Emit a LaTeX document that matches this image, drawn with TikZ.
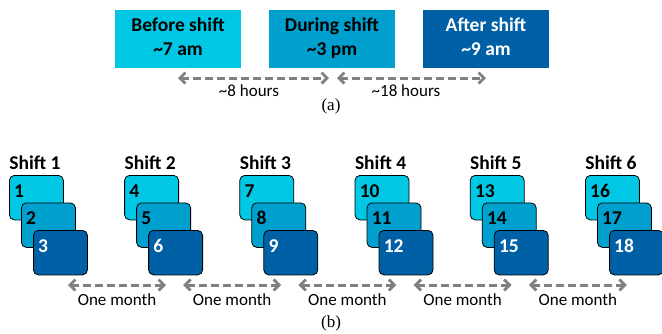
\documentclass[tikz,border=0pt]{standalone}
\usepackage{fontspec}
\setmainfont{Carlito}
\newfontfamily\timesfont{Liberation Serif}
\usetikzlibrary{arrows.meta}
\definecolor{cA}{RGB}{0,200,228}
\definecolor{cB}{RGB}{0,160,206}
\definecolor{cC}{RGB}{0,96,166}
\definecolor{arrgray}{RGB}{128,128,128}
\tikzset{
  topbox/.style={inner sep=0pt, minimum width=126pt, minimum height=58pt, anchor=north west, align=center, font=\fontsize{19}{24}\selectfont\bfseries},
  smallbox/.style={draw=black, line width=0.8pt, rounded corners=5pt, inner sep=0pt, minimum width=54pt, minimum height=44.5pt, anchor=north west},
  numtxt/.style={anchor=base west, inner sep=0pt, font=\fontsize{19.5}{23}\selectfont\bfseries},
  shifttxt/.style={anchor=base, inner sep=0pt, font=\fontsize{19.5}{23}\selectfont\bfseries},
  labtxt/.style={anchor=base, inner sep=0pt, font=\fontsize{17}{20}\selectfont},
  captxt/.style={anchor=base, inner sep=0pt, font=\fontsize{17}{20}\selectfont\timesfont},
  darr/.style={draw=arrgray, line width=3pt, dash pattern=on 8pt off 4pt, {Straight Barb[length=5.5pt,width=11pt,line width=2.8pt]}-{Straight Barb[length=5.5pt,width=11pt,line width=2.8pt]}}
}
\begin{document}
\begin{tikzpicture}[x=1pt,y=-1pt]
\useasboundingbox (0,0) rectangle (662,333);
% (a)
\node[topbox, fill=cA, text=black] (before) at (115,10) {};
\node[topbox, fill=cB, text=black] (during) at (269,10) {};
\node[topbox, fill=cC, text=white] (after) at (423,10) {};
\node[shifttxt, text=black] (beforeT1) at (178,31) {Before shift};
\node[shifttxt, text=black] (beforeT2) at (178,55) {\textasciitilde 7 am};
\node[shifttxt, text=black] (duringT1) at (332,31) {During shift};
\node[shifttxt, text=black] (duringT2) at (332,55) {\textasciitilde 3 pm};
\node[shifttxt, text=white] (afterT1) at (486,31) {After shift};
\node[shifttxt, text=white] (afterT2) at (486,55) {\textasciitilde 9 am};
\coordinate (a1s) at (178,78);
\coordinate (a1e) at (329,78);
\coordinate (a2s) at (337,78);
\coordinate (a2e) at (486,78);
\draw[darr] (a1s) -- (a1e);
\draw[darr] (a2s) -- (a2e);
\node[labtxt] (l8) at (249,96) {\textasciitilde 8 hours};
\node[labtxt] (l18) at (406,96) {\textasciitilde 18 hours};
\node[captxt] (capa) at (331,110) {(a)};
% (b)
\foreach \i in {0,...,5}{
  \pgfmathsetmacro{\xo}{9+115.2*\i}
  \pgfmathtruncatemacro{\na}{3*\i+1}
  \pgfmathtruncatemacro{\nb}{3*\i+2}
  \pgfmathtruncatemacro{\nc}{3*\i+3}
  \pgfmathtruncatemacro{\sh}{\i+1}
  \node[shifttxt] (shift\sh) at (\xo+26,169) {Shift \sh};
  \node[smallbox, fill=cA] (box\na) at (\xo,175) {};
  \node[smallbox, fill=cB] (box\nb) at (\xo+12,202.5) {};
  \node[smallbox, fill=cC] (box\nc) at (\xo+24,230) {};
  \node[numtxt, text=black] (num\na) at (\xo+5,197) {\na};
  \node[numtxt, text=black] (num\nb) at (\xo+17,224.5) {\nb};
  \node[numtxt, text=white] (num\nc) at (\xo+29,252) {\nc};
}
\foreach \i in {0,...,4}{
  \pgfmathsetmacro{\xo}{68+115.2*\i}
  \coordinate (m\i s) at (\xo,285);
  \coordinate (m\i e) at (\xo+98,285);
  \draw[darr] (m\i s) -- (m\i e);
  \node[labtxt] (month\i) at (\xo+49,305) {One month};
}
\node[captxt] (capb) at (331,327) {(b)};
\end{tikzpicture}
\end{document}
